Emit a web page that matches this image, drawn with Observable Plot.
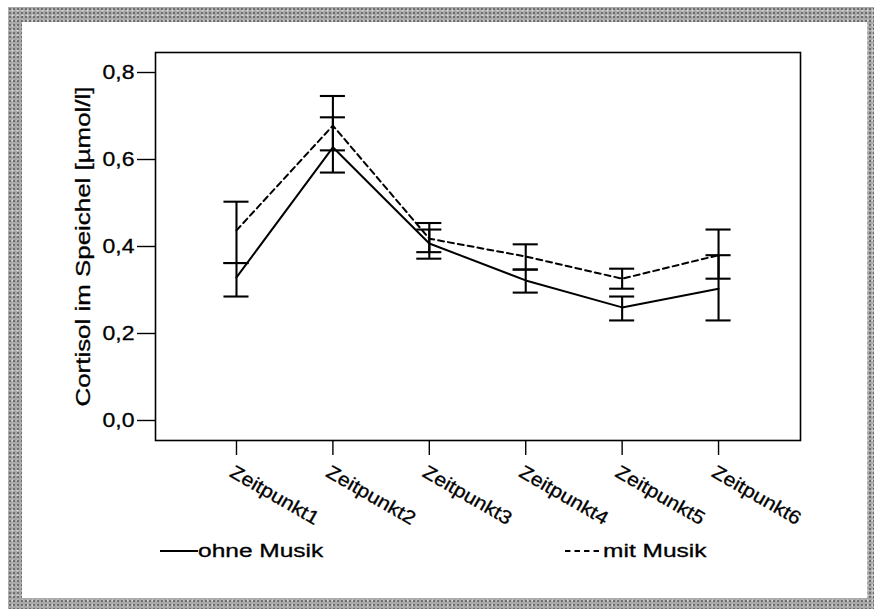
<!DOCTYPE html>
<html><head><meta charset="utf-8">
<script src="https://cdn.jsdelivr.net/npm/d3@7"></script>
<script src="https://cdn.jsdelivr.net/npm/@observablehq/plot@0.6"></script>
<style>
body{margin:0;width:874px;height:609px;position:relative;overflow:hidden;background:#fff;font-family:"Liberation Sans",Arial,sans-serif;}
#frame{position:absolute;left:8px;top:7px;width:866px;height:602px;box-sizing:border-box;background-color:#a9a9a9;
 background-image:radial-gradient(#6f6f6f 0.8px, transparent 1.3px), radial-gradient(#d6d6d6 0.8px, transparent 1.3px);
 background-size:4px 4px,5px 5px;background-position:0 0,2px 1px;}
#inner{position:absolute;left:14px;top:15px;right:7px;bottom:11px;background:#fff;}
#chart{position:absolute;left:0;top:0;}
.leg{position:absolute;top:541px;font-size:18px;line-height:20px;transform:scaleX(1.36);transform-origin:left center;white-space:nowrap;color:#000;display:flex;align-items:center;-webkit-text-stroke:0.3px #000;}
.leg svg{display:block;}
</style></head><body>
<div id="frame"><div id="inner"></div></div>
<div id="chart"></div>
<div class="leg" id="leg1" style="left:160px"></div>
<div class="leg" id="leg2" style="left:565px"></div>
<script>
// ---- data ----
const categories = ["Zeitpunkt1","Zeitpunkt2","Zeitpunkt3","Zeitpunkt4","Zeitpunkt5","Zeitpunkt6"];
const seriesNames = ["ohne Musik","mit Musik"];
const ohneMean = [0.329, 0.628, 0.407, 0.322, 0.260, 0.303];
const ohneLow  = [0.285, 0.570, 0.372, 0.294, 0.230, 0.230];
const ohneHigh = [0.362, 0.697, 0.439, 0.347, 0.285, 0.380];
const mitMean  = [0.437, 0.678, 0.418, 0.377, 0.326, 0.380];
const mitLow   = [0.362, 0.621, 0.387, 0.347, 0.303, 0.326];
const mitHigh  = [0.503, 0.746, 0.454, 0.405, 0.349, 0.439];
const yTicks = [0, 0.2, 0.4, 0.6, 0.8];
const yLabel = "Cortisol im Speichel [µmol/l]";

const idx = categories.map((c, i) => i + 1);
const mk = (name, mean, low, high) => categories.map((c, i) => ({series: name, i: i + 1, mean: mean[i], low: low[i], high: high[i]}));
const ohne = mk(seriesNames[0], ohneMean, ohneLow, ohneHigh);
const mit = mk(seriesNames[1], mitMean, mitLow, mitHigh);
const all = ohne.concat(mit);
const caps = all.flatMap(d => [{i: d.i, v: d.low}, {i: d.i, v: d.high}]);
const capHalf = 0.13;
const fmt = d => d.toFixed(1).replace(".", ",");

const chart = Plot.plot({
  width: 874,
  height: 540,
  marginLeft: 155,
  marginRight: 74,
  marginTop: 52,
  marginBottom: 100,
  style: {fontFamily: '"Liberation Sans", Arial, sans-serif', color: "black", background: "transparent", overflow: "visible"},
  x: {domain: [0.16, 6.85]},
  y: {domain: [-0.046, 0.846]},
  marks: [
    Plot.frame({stroke: "black", strokeWidth: 1.6}),
    Plot.axisY({ticks: yTicks, tickSize: 18, tickPadding: 3, tickFormat: fmt, fontSize: 20, strokeWidth: 1.4,
      label: yLabel, labelAnchor: "center", labelOffset: 80, labelArrow: "none"}),
    // tick lines only
    Plot.axisX({ticks: idx, tickSize: 15, tickFormat: () => "", strokeWidth: 1.4, label: null}),
    // rotated tick labels only
    Plot.axisX({ticks: idx, tickSize: 0, tickPadding: 19, tickRotate: 30, fontSize: 19,
      tickFormat: i => categories[i - 1], label: null, dx: -5, dy: 11}),
    Plot.ruleX(all, {x: "i", y1: "low", y2: "high", stroke: "black", strokeWidth: 2.1}),
    Plot.ruleY(caps, {y: "v", x1: d => d.i - capHalf, x2: d => d.i + capHalf, stroke: "black", strokeWidth: 2.1}),
    Plot.line(ohne, {x: "i", y: "mean", stroke: "black", strokeWidth: 2}),
    Plot.line(mit, {x: "i", y: "mean", stroke: "black", strokeWidth: 2, strokeDasharray: "6,4"})
  ]
});
document.getElementById("chart").append(chart);

// remove any automatic arrow from the axis label
chart.querySelectorAll('g[aria-label="y-axis label"] text').forEach(t => {
  t.textContent = t.textContent.replace(/[\u2190-\u2193]/g, "").trim();
});

function stretch(sel, fn) {
  chart.querySelectorAll(sel).forEach(t => {
    const L = t.getComputedTextLength();
    if (!L) return;
    t.setAttribute("textLength", fn(L));
    t.setAttribute("lengthAdjust", "spacingAndGlyphs");
    t.setAttribute("stroke", "black");
    t.setAttribute("stroke-width", "0.3");
  });
}
stretch('g[aria-label="y-axis tick label"] text', L => L * 1.15);
stretch('g[aria-label="x-axis tick label"] text', L => L * 1.12);
stretch('g[aria-label="y-axis label"] text', L => 320);

// legend (HTML, below the plot area)
function legend(el, name, dash) {
  const w = 28;
  el.innerHTML = `<svg width="${w}" height="10"><line x1="0" x2="${w}" y1="5" y2="5" stroke="black" stroke-width="1.8" ${dash ? 'stroke-dasharray="4,3"' : ''}/></svg><span>${name}</span>`;
}
legend(document.getElementById("leg1"), seriesNames[0], false);
legend(document.getElementById("leg2"), seriesNames[1], true);
</script>
</body></html>
